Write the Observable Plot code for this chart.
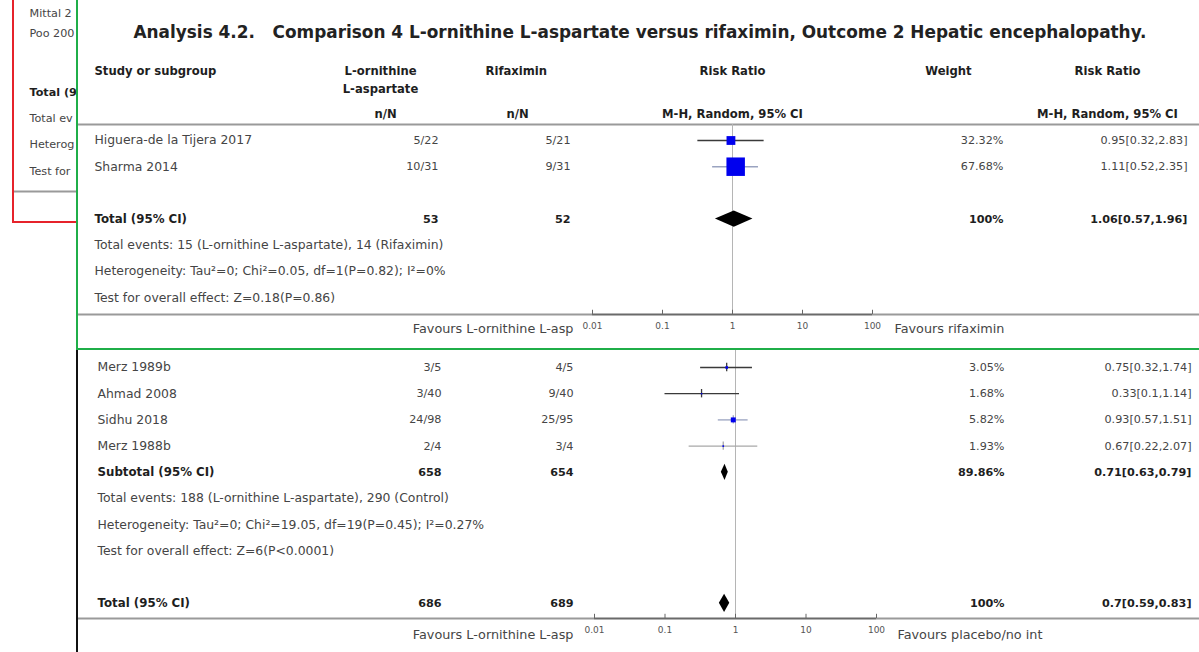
<!DOCTYPE html>
<html><head><meta charset="utf-8">
<script src="https://cdn.jsdelivr.net/npm/d3@7"></script>
<script src="https://cdn.jsdelivr.net/npm/@observablehq/plot@0.6"></script>
<style>
body{margin:0;background:#fff;}
#wrap{position:relative;width:1199px;height:652px;overflow:hidden;background:#fff;font-family:"DejaVu Sans",sans-serif;}
.panel{position:absolute;overflow:hidden;background:#fff;box-sizing:border-box;}
.deco{position:absolute;}
</style></head><body><div id="wrap"></div>
<script>
// ---------------- DATA ----------------
const titleText = "Analysis 4.2.\u00a0\u00a0 Comparison 4 L-ornithine L-aspartate versus rifaximin, Outcome 2 Hepatic encephalopathy.";
const headerLabels = ["Study or subgroup", "L-ornithine", "L-aspartate", "Rifaximin", "Risk Ratio", "Weight", "Risk Ratio", "n/N", "n/N", "M-H, Random, 95% CI", "M-H, Random, 95% CI"];
const axisTicks = [0.01, 0.1, 1, 10, 100];

// Panel A (Analysis 4.2)
const studiesA = ["Higuera-de la Tijera 2017", "Sharma 2014"];
const eventsExpA = [5, 10], totalExpA = [22, 31];
const eventsCtrlA = [5, 9], totalCtrlA = [21, 31];
const weightA = [32.32, 67.68];
const rrA = [0.95, 1.11], loA = [0.32, 0.52], hiA = [2.83, 2.35];
const pooledA = {label: "Total (95% CI)", nExp: 53, nCtrl: 52, weight: 100, rr: 1.06, lo: 0.57, hi: 1.96};
const notesA = ["Total events: 15 (L-ornithine L-aspartate), 14 (Rifaximin)",
  "Heterogeneity: Tau\u00b2=0; Chi\u00b2=0.05, df=1(P=0.82); I\u00b2=0%",
  "Test for overall effect: Z=0.18(P=0.86)"];
const favoursA = ["Favours L-ornithine L-asp", "Favours rifaximin"];

// Panel B (lower, overlapping screenshot)
const studiesB = ["Merz 1989b", "Ahmad 2008", "Sidhu 2018", "Merz 1988b"];
const eventsExpB = [3, 3, 24, 2], totalExpB = [5, 40, 98, 4];
const eventsCtrlB = [4, 9, 25, 3], totalCtrlB = [5, 40, 95, 4];
const weightB = [3.05, 1.68, 5.82, 1.93];
const rrB = [0.75, 0.33, 0.93, 0.67], loB = [0.32, 0.1, 0.57, 0.22], hiB = [1.74, 1.14, 1.51, 2.07];
const subtotalB = {label: "Subtotal (95% CI)", nExp: 658, nCtrl: 654, weight: 89.86, rr: 0.71, lo: 0.63, hi: 0.79};
const notesB = ["Total events: 188 (L-ornithine L-aspartate), 290 (Control)",
  "Heterogeneity: Tau\u00b2=0; Chi\u00b2=19.05, df=19(P=0.45); I\u00b2=0.27%",
  "Test for overall effect: Z=6(P<0.0001)"];
const totalB = {label: "Total (95% CI)", nExp: 686, nCtrl: 689, weight: 100, rr: 0.7, lo: 0.59, hi: 0.83};
const favoursB = ["Favours L-ornithine L-asp", "Favours placebo/no int"];

// Background panel (only its left edge is visible)
const backLabels = ["Mittal 2", "Poo 200", "Total (9", "Total ev", "Heterog", "Test for"];
const backBold = [false, false, true, false, false, false];

// ---------------- STYLE / LAYOUT ----------------
const FONT = '"DejaVu Sans", sans-serif';
const FS = 11.2, FS_LABEL = 12.4, FS_BOLDLABEL = 11.8, FS_FAV = 12.8, FS_HEAD = 11.6;
const TXT = "#454545", BOLD = "#1e1e1e", GRID = "#9a9a9a";
const whiskerA = {"Higuera-de la Tijera 2017": "#3a3a3a", "Sharma 2014": "#9aa3c0"};
const whiskerB = {"Merz 1989b": "#3a3a3a", "Ahmad 2008": "#3a3a3a", "Sidhu 2018": "#9aa3c0", "Merz 1988b": "#a8a8a8"};
const backRowPos = [-3.02, -2.25, 0, 1, 2, 3];

function studyRows(studies, eE, nE, eC, nC, w, rr, lo, hi) {
  return studies.map((s, i) => ({row: i, label: s, exp: `${eE[i]}/${nE[i]}`, ctrl: `${eC[i]}/${nC[i]}`,
    weight: `${w[i]}%`, w: w[i], rr: rr[i], lo: lo[i], hi: hi[i], ci: `${rr[i]}[${lo[i]},${hi[i]}]`}));
}
function pooledRow(p, row) {
  return {row, label: p.label, exp: String(p.nExp), ctrl: String(p.nCtrl), weight: `${p.weight}%`,
    rr: p.rr, lo: p.lo, hi: p.hi, ci: `${p.rr}[${p.lo},${p.hi}]`};
}
function diamond(p, row, h) {
  return [{x: p.lo, y1: row, y2: row, id: row}, {x: p.rr, y1: row - h, y2: row + h, id: row}, {x: p.hi, y1: row, y2: row, id: row}];
}
function columnTexts(rows, L, bold) {
  const o = {y: "row", frameAnchor: "left", lineAnchor: "middle", fill: bold ? BOLD : TXT, fontWeight: bold ? "bold" : "normal"};
  return [
    Plot.text(rows, {...o, text: "label", dx: L.study, textAnchor: "start", fontSize: bold ? FS_BOLDLABEL : FS_LABEL}),
    Plot.text(rows, {...o, text: "exp", dx: L.exp, textAnchor: "end"}),
    Plot.text(rows, {...o, text: "ctrl", dx: L.ctrl, textAnchor: "end"}),
    Plot.text(rows, {...o, text: "weight", dx: L.weight, textAnchor: "end"}),
    Plot.text(rows, {...o, text: "ci", dx: L.ci, textAnchor: "end"})
  ];
}
function axisMarks(axisRow, favRow, fav, L) {
  return [
    Plot.ruleY([axisRow], {stroke: GRID, strokeWidth: 2}),
    Plot.ruleY([axisRow], {x1: axisTicks[0], x2: axisTicks[axisTicks.length - 1], stroke: "#6a6a6a", strokeWidth: 1.5}),
    Plot.ruleX(axisTicks, {x: d => d, y1: axisRow - 0.16, y2: axisRow, stroke: "#666"}),
    Plot.axisX({ticks: axisTicks, tickFormat: d => String(d), anchor: "bottom", tickSize: 0, tickPadding: 8, fontSize: 9, fill: "#555", label: null}),
    Plot.text([fav[0]], {text: d => d, y: () => favRow, frameAnchor: "left", lineAnchor: "middle", dx: L.favL, textAnchor: "end", fill: TXT, fontSize: FS_FAV}),
    Plot.text([fav[1]], {text: d => d, y: () => favRow, frameAnchor: "left", lineAnchor: "middle", dx: L.favR, textAnchor: "start", fill: TXT, fontSize: FS_FAV})
  ];
}

const wrap = document.getElementById("wrap");
function addDiv(cls, css) { const d = document.createElement("div"); d.className = cls; Object.assign(d.style, css); wrap.appendChild(d); return d; }

// ---------- background (red) panel ----------
const backRows = backLabels.map((t, i) => ({label: t, row: backRowPos[i], bold: backBold[i]}));
const backPlot = Plot.plot({
  width: 64, height: 221, marginLeft: 0, marginRight: 0, marginTop: 0, marginBottom: 0,
  y: {type: "linear", domain: [0, 1], range: [92, 118.2], axis: null},
  style: {fontFamily: FONT, fontSize: FS + "px", background: "transparent"},
  marks: [
    Plot.text(backRows.filter(d => !d.bold), {y: "row", text: "label", frameAnchor: "left", lineAnchor: "middle", dx: 15, textAnchor: "start", fill: TXT}),
    Plot.text(backRows.filter(d => d.bold), {y: "row", text: "label", frameAnchor: "left", lineAnchor: "middle", dx: 15, textAnchor: "start", fill: BOLD, fontWeight: "bold"}),
    Plot.ruleY([3.78], {stroke: GRID, strokeWidth: 2})
  ]
});
const backDiv = addDiv("panel", {left: "14px", top: "0px", width: "64px", height: "221px"});
backDiv.appendChild(backPlot);
addDiv("deco", {left: "12px", top: "0px", width: "2px", height: "223px", background: "#e6232b"});
addDiv("deco", {left: "12px", top: "221px", width: "66px", height: "2px", background: "#e6232b"});

// ---------- top (green) panel ----------
const LA = {study: 16, exp: 360, ctrl: 492, weight: 925, ci: 1109, favL: 495, favR: 816};
const rowsA = studyRows(studiesA, eventsExpA, totalExpA, eventsCtrlA, totalCtrlA, weightA, rrA, loA, hiA);
const totA = pooledRow(pooledA, 3);
const notesRowsA = notesA.map((t, i) => ({row: 4 + i, label: t}));
const headerRowA = -0.61, axisRowA = 6.64, favRowA = 7.18;
const headPos = [[16, 71, "start"], [302, 71, "middle"], [302, 89, "middle"], [407, 71, "start"], [654, 71, "middle"], [870, 71, "middle"],
  [1029, 71, "middle"], [307, 114, "middle"], [439, 114, "middle"], [654, 114, "middle"], [1029, 114, "middle"]];

const topPlot = Plot.plot({
  width: 1121, height: 348, marginLeft: 0, marginRight: 0, marginTop: 0, marginBottom: 34,
  x: {type: "log", domain: [0.01, 100], range: [514, 794], label: null},
  y: {type: "linear", domain: [0, 1], range: [140, 166.2], axis: null},
  r: {type: "linear", domain: [0, 100], range: [0, 15.4]},
  style: {fontFamily: FONT, fontSize: FS + "px", background: "transparent"},
  marks: [
    Plot.text([titleText], {text: d => d, frameAnchor: "top-left", lineAnchor: "middle", dx: 55, dy: 32, textAnchor: "start", fontSize: 16.9, fontWeight: "bold", fill: "#222"}),
    ...headerLabels.map((h, i) => Plot.text([h], {text: d => d, frameAnchor: "top-left", lineAnchor: "middle", dx: headPos[i][0], dy: headPos[i][1], textAnchor: headPos[i][2], fontSize: FS_HEAD, fontWeight: "bold", fill: BOLD})),
    Plot.ruleY([headerRowA], {stroke: GRID, strokeWidth: 2}),
    Plot.ruleX([1], {y1: headerRowA, y2: axisRowA, stroke: "#b5b5b5"}),
    Plot.ruleY(rowsA, {y: "row", x1: "lo", x2: "hi", stroke: d => whiskerA[d.label], strokeWidth: 1.5}),
    Plot.dot(rowsA, {x: "rr", y: "row", r: "w", symbol: "square", fill: "#0000ee", stroke: null}),
    Plot.areaY(diamond(pooledA, 3, 0.31), {x: "x", y1: "y1", y2: "y2", z: "id", fill: "#000"}),
    ...columnTexts(rowsA, LA, false),
    ...columnTexts([totA], LA, true),
    Plot.text(notesRowsA, {y: "row", text: "label", frameAnchor: "left", lineAnchor: "middle", dx: LA.study, textAnchor: "start", fill: TXT, fontSize: FS_LABEL}),
    ...axisMarks(axisRowA, favRowA, favoursA, LA)
  ]
});
const topDiv = addDiv("panel", {left: "76px", top: "0px", width: "1123px", height: "350px",
  borderLeft: "2px solid #1fae48", borderBottom: "2px solid #1fae48"});
topDiv.appendChild(topPlot);

// ---------- bottom panel ----------
const LB = {study: 19, exp: 363, ctrl: 495, weight: 926, ci: 1113, favL: 495, favR: 819};
const rowsB = studyRows(studiesB, eventsExpB, totalExpB, eventsCtrlB, totalCtrlB, weightB, rrB, loB, hiB);
const subB = pooledRow(subtotalB, 4);
const totRowB = pooledRow(totalB, 9);
const notesRowsB = notesB.map((t, i) => ({row: 5 + i, label: t}));
const axisRowB = 9.58, favRowB = 10.19, refTopB = -0.66;

const botPlot = Plot.plot({
  width: 1121, height: 302, marginLeft: 0, marginRight: 0, marginTop: 0, marginBottom: 34,
  x: {type: "log", domain: [0.01, 100], range: [516, 798], label: null},
  y: {type: "linear", domain: [0, 1], range: [17, 43.2], axis: null},
  r: {type: "linear", domain: [0, 100], range: [0, 48]},
  style: {fontFamily: FONT, fontSize: FS + "px", background: "transparent"},
  marks: [
    Plot.ruleX([1], {y1: refTopB, y2: axisRowB, stroke: "#b5b5b5"}),
    Plot.ruleY(rowsB, {y: "row", x1: "lo", x2: "hi", stroke: d => whiskerB[d.label], strokeWidth: 1.3}),
    Plot.ruleX(rowsB, {x: "rr", y1: d => d.row - 0.16, y2: d => d.row + 0.16, stroke: d => whiskerB[d.label], strokeWidth: 1.3}),
    Plot.dot(rowsB, {x: "rr", y: "row", r: "w", symbol: "square", fill: "#0000ee", stroke: null}),
    Plot.areaY(diamond(subtotalB, 4, 0.31), {x: "x", y1: "y1", y2: "y2", z: "id", fill: "#000"}),
    Plot.areaY(diamond(totalB, 9, 0.35), {x: "x", y1: "y1", y2: "y2", z: "id", fill: "#000"}),
    ...columnTexts(rowsB, LB, false),
    ...columnTexts([subB, totRowB], LB, true),
    Plot.text(notesRowsB, {y: "row", text: "label", frameAnchor: "left", lineAnchor: "middle", dx: LB.study, textAnchor: "start", fill: TXT, fontSize: FS_LABEL}),
    ...axisMarks(axisRowB, favRowB, favoursB, LB)
  ]
});
const botDiv = addDiv("panel", {left: "76px", top: "350px", width: "1123px", height: "302px", borderLeft: "2px solid #111"});
botDiv.appendChild(botPlot);
</script>
</body></html>
